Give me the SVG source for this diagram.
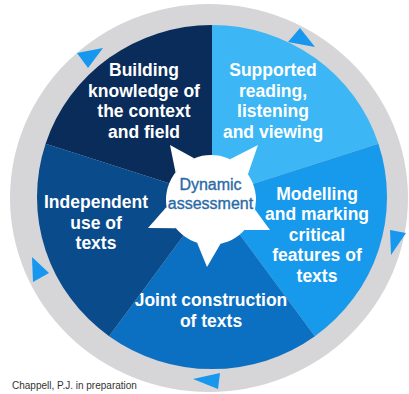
<svg xmlns="http://www.w3.org/2000/svg" width="409" height="394" viewBox="0 0 409 394">
<style>
.seg-text{font-family:"Liberation Sans",Arial,sans-serif;font-weight:bold;font-size:17.5px;fill:#ffffff;text-anchor:middle}
.center-text{font-family:"Liberation Sans",Arial,sans-serif;font-size:16px;fill:#2b6aa6;stroke:#2b6aa6;stroke-width:0.35;text-anchor:middle}
.arrow{fill:#1797ee}
.caption{font-family:"Liberation Sans",Arial,sans-serif;font-size:10px;fill:#333333}
</style>
<rect width="409" height="394" fill="#ffffff"/>
<g id="ring">
<ellipse cx="209" cy="198" rx="199" ry="194" fill="#d6d5d8"/>
</g>
<g id="building">
<path d="M212,197 L45.6,143.8 A175,172 0 0 1 212,25 Z" fill="#0a2c5a"/>
<text class="seg-text" x="144" y="76">Building</text>
<text class="seg-text" x="144" y="96.5">knowledge of</text>
<text class="seg-text" x="144" y="117">the context</text>
<text class="seg-text" x="144" y="137.5">and field</text>
</g>
<g id="supported">
<path d="M212,197 L212,25 A175,172 0 0 1 378.4,143.8 Z" fill="#3cb6f4"/>
<text class="seg-text" x="273" y="76">Supported</text>
<text class="seg-text" x="273" y="96.5">reading,</text>
<text class="seg-text" x="273" y="117">listening</text>
<text class="seg-text" x="273" y="137.5">and viewing</text>
</g>
<g id="modelling">
<path d="M212,197 L378.4,143.8 A175,172 0 0 1 314.9,336.2 Z" fill="#1799ec"/>
<text class="seg-text" x="317" y="199.5">Modelling</text>
<text class="seg-text" x="317" y="220">and marking</text>
<text class="seg-text" x="317" y="240.5">critical</text>
<text class="seg-text" x="317" y="261">features of</text>
<text class="seg-text" x="317" y="281.5">texts</text>
</g>
<g id="joint">
<path d="M212,197 L314.9,336.2 A175,172 0 0 1 109.1,336.2 Z" fill="#0c70c2"/>
<text class="seg-text" x="211" y="306">Joint construction</text>
<text class="seg-text" x="211" y="326.5">of texts</text>
</g>
<g id="independent">
<path d="M212,197 L109.1,336.2 A175,172 0 0 1 45.6,143.8 Z" fill="#0a4b8c"/>
<text class="seg-text" x="96" y="208">Independent</text>
<text class="seg-text" x="96" y="228.5">use of</text>
<text class="seg-text" x="96" y="249">texts</text>
</g>
<g id="dynamic-assessment">
<circle cx="211" cy="200" r="45" fill="#ffffff"/>
<polygon points="175.5,172.3 170,145 194.1,158.3" fill="#ffffff"/>
<polygon points="230,159.2 258,145 247.9,174.2" fill="#ffffff"/>
<polygon points="255,209.4 270,230 244.4,230.1" fill="#ffffff"/>
<polygon points="220.4,244 207,267 197.1,242.8" fill="#ffffff"/>
<polygon points="176,228.3 148,228 166.5,207" fill="#ffffff"/>
<text class="center-text" x="210.5" y="190">Dynamic</text>
<text class="center-text" x="210.5" y="208.5">assessment</text>
</g>
<g id="connectors">
<polygon class="arrow" points="315,47 300,28 288,42"/>
<polygon class="arrow" points="391,255 390,230 406,233"/>
<polygon class="arrow" points="193,379 220,373 218,389"/>
<polygon class="arrow" points="32,257 49,273 33,282"/>
<polygon class="arrow" points="103,48 77,53 88,68"/>
</g>
<text class="caption" x="12" y="389">Chappell, P.J. in preparation</text>
</svg>
